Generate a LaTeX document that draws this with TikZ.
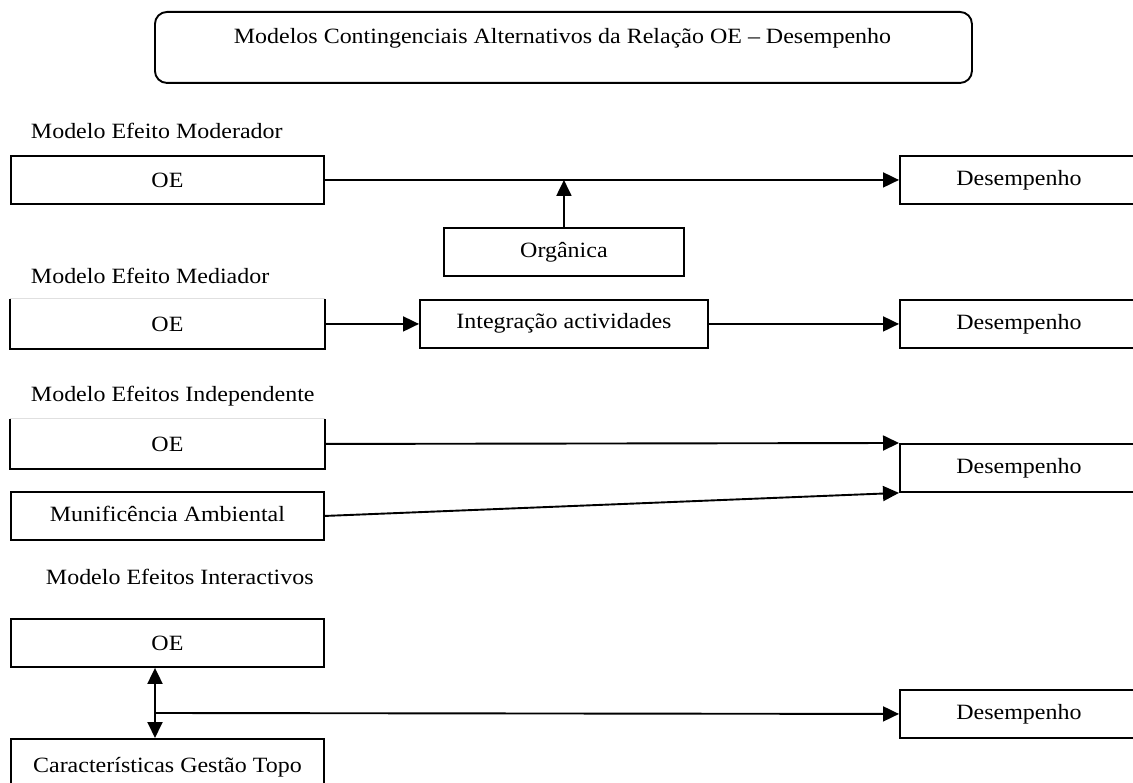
\documentclass[tikz,border=0pt]{standalone}
\usepackage{fontspec}
\setmainfont{Liberation Serif}[FakeStretch=1.1]
\usetikzlibrary{arrows.meta}

\begin{document}
\begin{tikzpicture}[x=1pt, y=-1pt, line width=1.9pt,
  font=\fontsize{21.8}{26}\selectfont,
  box/.style={draw, inner sep=0pt, minimum width=313pt, minimum height=48pt, anchor=north west},
  openbox/.style={box, draw=none},
  outbox/.style={box, minimum width=238pt},
  tip/.style={-{Triangle[length=16pt,width=15pt]}},
  bothtips/.style={{Triangle[length=16pt,width=15pt]}-{Triangle[length=16pt,width=15pt]}},
  heading/.style={anchor=west, inner sep=0pt},
  faint/.style={draw=black!12, line width=1pt}]

\useasboundingbox (0,0) rectangle (1133,783);
\clip (0,0) rectangle (1133,783);

% title
\node[draw, rounded corners=12pt, anchor=north west, inner sep=0pt,
      minimum width=817pt, minimum height=71pt] (title) at (154,11) {};
\node[inner sep=0pt] (titletext) at (562.5,38)
  {Modelos Contingenciais Alternativos da Relação OE – Desempenho};

% moderating effect
\node[heading] (h1) at (30,131) {Modelo Efeito Moderador};
\node[box] (oe1) at (10,155) {OE};
\node[outbox] (des1) at (899,155) {Desempenho};
\node[box, minimum width=240pt] (org) at (443,227) {\raisebox{3pt}{Orgânica}};
\draw[tip] (oe1.east) -- (des1.west);
\draw[tip] (org.north) -- (org.north |- oe1.east);

% mediating effect
\node[heading] (h2) at (30,276) {Modelo Efeito Mediador};
\node[openbox] (oe2) at (10,299) {OE};
\draw[faint] (oe2.north west) -- (oe2.north east);
\draw (oe2.north west) -- (oe2.south west) -- (oe2.south east) -- (oe2.north east);
\node[box, minimum width=288pt] (int) at (419,299) {\raisebox{6pt}{Integração actividades}};
\node[outbox] (des2) at (899,299) {Desempenho};
\draw[tip] (oe2.east) -- (int.west);
\draw[tip] (int.east) -- (des2.west);

% independent effects
\node[heading] (h3) at (30,396) {Modelo Efeitos Independente};
\node[openbox] (oe3) at (10,419) {OE};
\draw[faint] (oe3.north west) -- (oe3.north east);
\draw (oe3.north west) -- (oe3.south west) -- (oe3.south east) -- (oe3.north east);
\node[box] (mun) at (10,491) {\raisebox{4pt}{Munificência Ambiental}};
\node[outbox] (des3) at (899,443) {Desempenho};
\draw[tip] (oe3.east) -- (des3.north west);
\draw[tip] (mun.east) -- (des3.south west);

% interactive effects
\node[heading] (h4) at (45,577) {Modelo Efeitos Interactivos};
\node[box] (oe4) at (10,618) {OE};
\node[box, minimum height=62pt] (cgt) at (10,738) {\raisebox{11pt}{Características Gestão Topo}};
\node[outbox] (des4) at (899,689) {Desempenho};
\coordinate (jn) at (155,713);
\draw[bothtips] (jn |- oe4.south) -- (jn |- cgt.north);
\draw[tip] (jn) -- (des4.west);

\end{tikzpicture}
\end{document}
